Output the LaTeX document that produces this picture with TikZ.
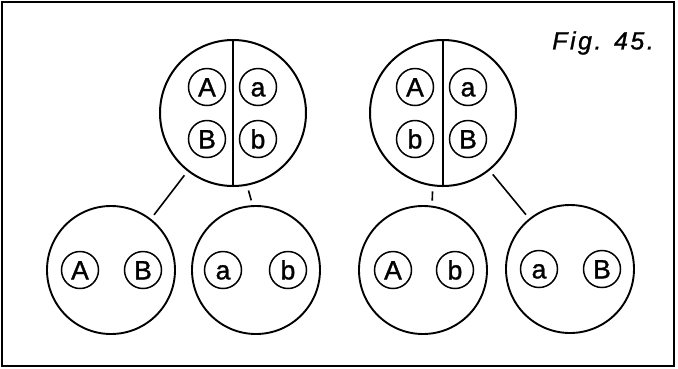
\documentclass[tikz,border=0pt]{standalone}
\usepackage{fontspec}
\setmainfont{Liberation Sans}
\newfontfamily\genefont[FakeBold=1.2]{Liberation Sans}
\newfontfamily\figfont[LetterSpace=10,FakeBold=1]{Liberation Sans}
\begin{document}
\begin{tikzpicture}[x=1pt,y=-1pt,
  bigcell/.style={draw,circle,line width=2pt,minimum size=146pt,inner sep=0pt},
  cell/.style={draw,circle,line width=1.9pt,minimum size=128pt,inner sep=0pt},
  gene/.style={draw,circle,line width=1.5pt,minimum size=37pt,inner sep=0pt,
    font=\genefont\fontsize{26.5}{26.5}\selectfont,text height=18.8pt,text depth=0pt},
  link/.style={line width=1.6pt,shorten <=5pt,shorten >=5pt}]
\useasboundingbox (0,0) rectangle (678,368);
\draw[line width=2pt] (2,2) rectangle (674,366);
\node[font=\figfont\itshape\fontsize{25}{25}\selectfont] (fig) at (603,43) {Fig. 45.};
% top left parent
\node[bigcell] (P1) at (233,113) {};
\draw[line width=1.6pt] (P1.north) -- (P1.south);
\node[gene] (p1A) at (207,87) {A};
\node[gene] (p1a) at (258,87) {a};
\node[gene] (p1B) at (207,139) {B};
\node[gene] (p1b) at (258,139) {b};
% top right parent
\node[bigcell] (P2) at (443,113) {};
\draw[line width=1.6pt] (P2.north) -- (P2.south);
\node[gene] (p2A) at (415,87) {A};
\node[gene] (p2a) at (468,87) {a};
\node[gene] (p2b) at (415,139) {b};
\node[gene] (p2B) at (468,139) {B};
% children
\node[cell] (C1) at (111,270) {};
\node[gene] (c1A) at (80,270) {A};
\node[gene] (c1B) at (143,270) {B};
\node[cell] (C2) at (256,270) {};
\node[gene] (c2a) at (223,270) {a};
\node[gene] (c2b) at (288,270) {b};
\node[cell] (C3) at (423,270) {};
\node[gene] (c3A) at (393,270) {A};
\node[gene] (c3b) at (455,270) {b};
\node[cell] (C4) at (570,269) {};
\node[gene] (c4a) at (539,269) {a};
\node[gene] (c4B) at (602,269) {B};
% connectors
\draw[link] (P1.232) -- (C1.52);
\draw[link] (P1.281) -- (C2.93);
\draw[link] (P2.262) -- (C3.82);
\draw[link] (P2.309) -- (C4.129);
\end{tikzpicture}
\end{document}
